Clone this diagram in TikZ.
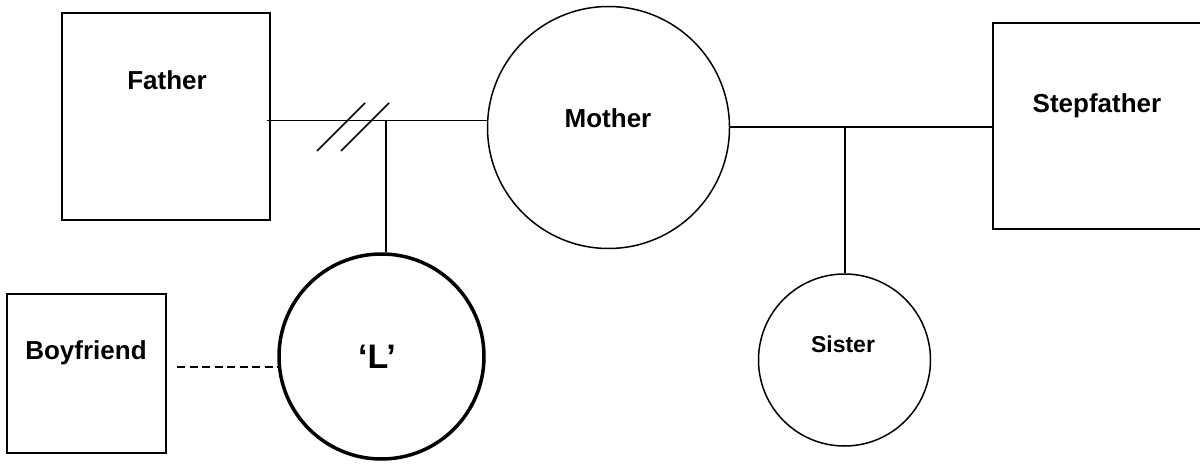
\documentclass[tikz,border=0pt]{standalone}
\usepackage{fontspec}
\setmainfont{Liberation Sans}
\begin{document}
\begin{tikzpicture}[x=1pt,y=-1pt,
  line width=1.5pt,
  person/.style={draw, rectangle, inner sep=0pt},
  female/.style={draw, circle, inner sep=0pt},
  nametext/.style={font=\bfseries\fontsize{26}{30}\selectfont, inner sep=0pt},
  tie/.style={line width=1.5pt},
  affair/.style={line width=1.5pt, dash pattern=on 8pt off 4.5pt}]
\useasboundingbox (0,0) rectangle (1200,468);
% people
\node[person, minimum width=208pt, minimum height=207pt] (father) at (166,116.5) {};
\node[nametext] (fatherlbl) at (167,80) {Father};
\node[female, minimum size=242pt] (mother) at (608.5,127.5) {};
\node[nametext] (motherlbl) at (608,118) {Mother};
\node[person, minimum width=208pt, minimum height=206pt] (stepfather) at (1097,126) {};
\node[nametext] (stepfatherlbl) at (1097,106) {Stepfather};
\node[person, minimum width=159pt, minimum height=159pt] (boyfriend) at (86.5,373.5) {};
\node[nametext] (boyfriendlbl) at (86,353) {Boyfriend};
\node[female, line width=3.5pt, minimum size=205pt] (L) at (381.5,356.5) {};
\node[nametext, font=\bfseries\fontsize{34}{38}\selectfont] (Llbl) at (377,357) {‘L’};
\node[female, minimum size=172pt] (sister) at (844.5,360) {};
\node[nametext, font=\bfseries\fontsize{23}{27}\selectfont] (sisterlbl) at (843,344) {Sister};
% junctions
\coordinate (fm) at (386,120.5);
\coordinate (ms) at (845,127);
\coordinate (bf) at (177,367);
% connectors
\draw[tie] ([xshift=-4pt]father.east |- fm) -- (fm) -- (mother.west |- fm);
\draw[tie] (fm) -- (fm |- L.north);
\draw[tie] (mother.east |- ms) -- (ms) -- (stepfather.west |- ms);
\draw[tie] (ms) -- (ms |- sister.north);
\draw[affair] (bf) -- ([xshift=1pt]L.west |- bf);
% divorce marks
\draw[tie] (317,151) -- (365,103);
\draw[tie] (341,151) -- (389,103);
\end{tikzpicture}
\end{document}
